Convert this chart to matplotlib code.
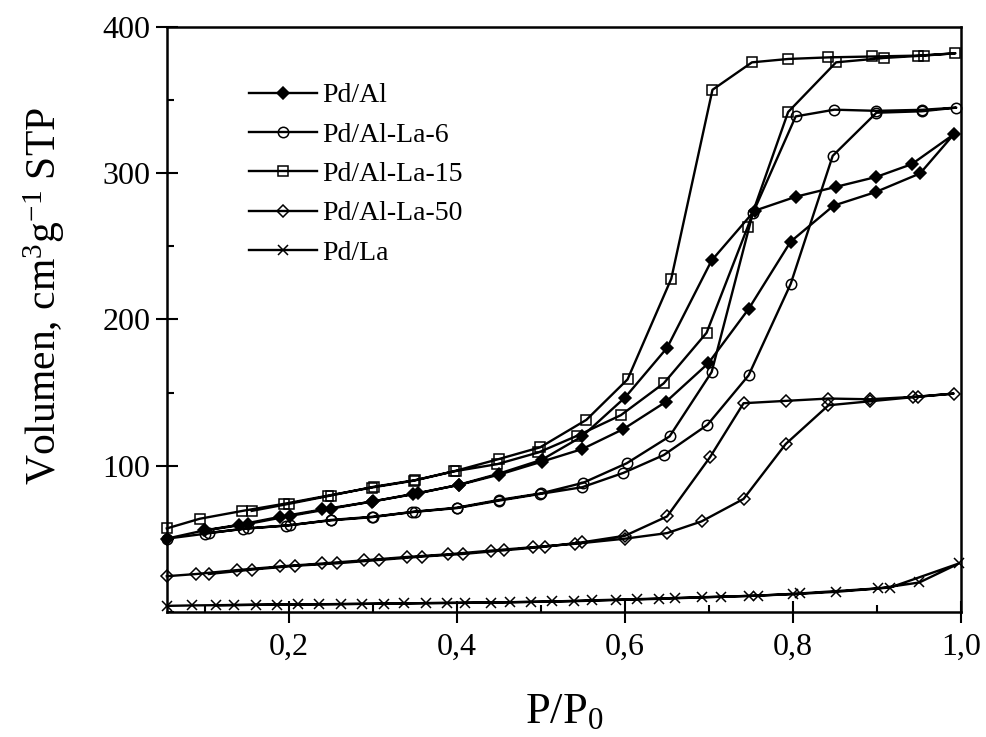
import numpy as np
import matplotlib
matplotlib.use('Agg')
import matplotlib.pyplot as plt
from matplotlib.ticker import MultipleLocator

plt.rcParams['font.family'] = ['Liberation Serif', 'DejaVu Serif']
plt.rcParams['mathtext.fontset'] = 'custom'
plt.rcParams['mathtext.rm'] = 'Liberation Serif'
plt.rcParams['mathtext.default'] = 'regular'

# adsorption / desorption branches
pdal_ads_x = [0.055, 0.099, 0.141, 0.19, 0.24, 0.299, 0.348, 0.403, 0.45, 0.501,
              0.549, 0.598, 0.649, 0.699, 0.747, 0.797, 0.848, 0.898, 0.951, 0.991]
pdal_ads_y = [50, 55.6, 59.5, 65, 70, 75.4, 80.6, 86.8, 93.8, 102.7,
              111.3, 125, 143.8, 170, 207.2, 253.3, 277.9, 287.2, 300, 326.7]
pdal_des_x = [0.941, 0.899, 0.851, 0.803, 0.754, 0.703, 0.65, 0.6, 0.549, 0.501,
              0.45, 0.403, 0.354, 0.30, 0.25, 0.201, 0.151, 0.10]
pdal_des_y = [306.3, 297.6, 290.8, 284, 274.4, 240.4, 180.6, 146.6, 120, 104,
              94.5, 87, 81, 75.5, 70.5, 65.5, 60, 55.6]

la6_ads_x = [0.055, 0.101, 0.146, 0.197, 0.25, 0.299, 0.347, 0.40, 0.45, 0.499,
             0.549, 0.598, 0.646, 0.698, 0.747, 0.797, 0.847, 0.899, 0.953, 0.994]
la6_ads_y = [50, 53.4, 56.8, 59, 62.5, 64.7, 68.2, 70.9, 76, 80.6,
             85.2, 95, 107.2, 127.9, 161.8, 224.3, 312, 341.5, 342.5, 345]
la6_des_x = [0.953, 0.899, 0.849, 0.803, 0.752, 0.703, 0.653, 0.602, 0.55, 0.50,
             0.45, 0.40, 0.35, 0.30, 0.25, 0.202, 0.152, 0.105]
la6_des_y = [343.5, 342.8, 343.6, 339, 272.7, 164, 120, 101.6, 88.2, 81,
             76.5, 71.2, 68.5, 65, 62.8, 59.2, 57, 54]

la15_ads_x = [0.055, 0.094, 0.145, 0.194, 0.247, 0.299, 0.349, 0.396, 0.448, 0.497,
              0.543, 0.595, 0.646, 0.697, 0.746, 0.794, 0.851, 0.908, 0.955, 0.993]
la15_ads_y = [57, 63.6, 69, 73.8, 79.5, 85, 89.7, 96, 101, 109,
              120.4, 134.5, 156.3, 190.9, 263.5, 342, 376, 379, 380.6, 382.2]
la15_des_x = [0.949, 0.894, 0.842, 0.794, 0.751, 0.704, 0.655, 0.603, 0.554, 0.499,
              0.45, 0.399, 0.35, 0.301, 0.25, 0.2, 0.156]
la15_des_y = [380.6, 380, 379.4, 378.3, 376, 357.2, 227.9, 159, 131.3, 112.5,
              104.5, 96.5, 90, 85.5, 79.5, 73.8, 69]

la50_ads_x = [0.055, 0.09, 0.139, 0.19, 0.24, 0.29, 0.341, 0.39, 0.44, 0.491,
              0.541, 0.6, 0.65, 0.691, 0.741, 0.791, 0.842, 0.891, 0.942, 0.991]
la50_ads_y = [24.3, 25.8, 28.5, 31, 33, 35.2, 37.5, 39.3, 41.8, 44.2,
              46.5, 50, 53.8, 61.8, 77.2, 114.7, 141.3, 144, 146.8, 149.3]
la50_des_x = [0.948, 0.891, 0.842, 0.791, 0.741, 0.701, 0.65, 0.6, 0.549, 0.505,
              0.456, 0.407, 0.358, 0.307, 0.257, 0.207, 0.156, 0.105]
la50_des_y = [147.2, 145.4, 145.9, 144.3, 142.7, 105.7, 65.2, 52, 47.5, 44.5,
              42, 39.5, 37.7, 35.4, 33.1, 31.4, 28.8, 25.8]

pdla_ads_x = [0.055, 0.085, 0.135, 0.186, 0.236, 0.287, 0.337, 0.388, 0.44, 0.488,
              0.539, 0.589, 0.64, 0.691, 0.747, 0.80, 0.851, 0.901, 0.95, 0.997]
pdla_ads_y = [4.0, 4.3, 4.6, 4.9, 5.1, 5.4, 5.7, 6.0, 6.3, 6.7,
              7.2, 8.0, 8.8, 9.8, 10.8, 12.0, 13.6, 15.9, 20, 33]
pdla_des_x = [0.915, 0.808, 0.758, 0.714, 0.66, 0.614, 0.561, 0.513, 0.463, 0.41,
              0.363, 0.313, 0.262, 0.211, 0.161, 0.113]
pdla_des_y = [16.5, 12.5, 11, 10.3, 9.4, 8.6, 7.8, 7.0, 6.5, 6.1,
              5.9, 5.5, 5.2, 5.0, 4.7, 4.4]

labels = ['Pd/Al', 'Pd/Al-La-6', 'Pd/Al-La-15', 'Pd/Al-La-50', 'Pd/La']
xtick_vals = [0.2, 0.4, 0.6, 0.8, 1.0]
xtick_labels = ['0,2', '0,4', '0,6', '0,8', '1,0']
ytick_vals = [100, 200, 300, 400]

series = [
    (pdal_ads_x, pdal_ads_y, pdal_des_x, pdal_des_y),
    (la6_ads_x, la6_ads_y, la6_des_x, la6_des_y),
    (la15_ads_x, la15_ads_y, la15_des_x, la15_des_y),
    (la50_ads_x, la50_ads_y, la50_des_x, la50_des_y),
    (pdla_ads_x, pdla_ads_y, pdla_des_x, pdla_des_y),
]
styles = [
    dict(marker='D', markersize=6.5, markerfacecolor='black'),
    dict(marker='o', markersize=7.5, markerfacecolor='none'),
    dict(marker='s', markersize=7, markerfacecolor='none'),
    dict(marker='D', markersize=6.5, markerfacecolor='none'),
    dict(marker='x', markersize=7.5, markerfacecolor='none'),
]

fig = plt.figure(figsize=(9.87, 7.37), dpi=100)
ax = fig.add_axes([0.169, 0.170, 0.805, 0.793])

for (ax_x, ax_y, dx, dy), lab, st in zip(series, labels, styles):
    # isotherm drawn as one loop: adsorption up, desorption back down
    xs = list(ax_x) + list(dx)
    ys = list(ax_y) + list(dy)
    ax.plot(xs, ys, color='black', linewidth=1.7, markeredgecolor='black',
            markeredgewidth=1.1, label=lab, clip_on=False, **st)

ax.set_xlim(0.055, 1.0)
ax.set_ylim(0, 400)
ax.set_xticks(xtick_vals)
ax.set_xticklabels(xtick_labels)
ax.set_yticks(ytick_vals)
ax.xaxis.set_minor_locator(MultipleLocator(0.1))
ax.yaxis.set_minor_locator(MultipleLocator(50))

ax.tick_params(which='major', direction='inout', length=16, width=1.5,
               labelsize=23, pad=4)
ax.tick_params(which='minor', direction='in', length=5, width=1.5)
ax.tick_params(axis='x', which='major', pad=7)
for sp in ax.spines.values():
    sp.set_linewidth(1.8)

ax.set_xlabel('P/P$_0$', fontsize=32, labelpad=22)
ax.set_ylabel('Volumen, cm$^3$g$^{-1}$ STP', fontsize=30)
ax.yaxis.set_label_coords(-0.125, 0.54)

ax.legend(loc='upper left', bbox_to_anchor=(0.1035, 0.905), frameon=False,
          fontsize=20, handlelength=2.45, handletextpad=0.2, labelspacing=0.5,
          borderpad=0, borderaxespad=0)

fig.savefig('out.png', dpi=100)
